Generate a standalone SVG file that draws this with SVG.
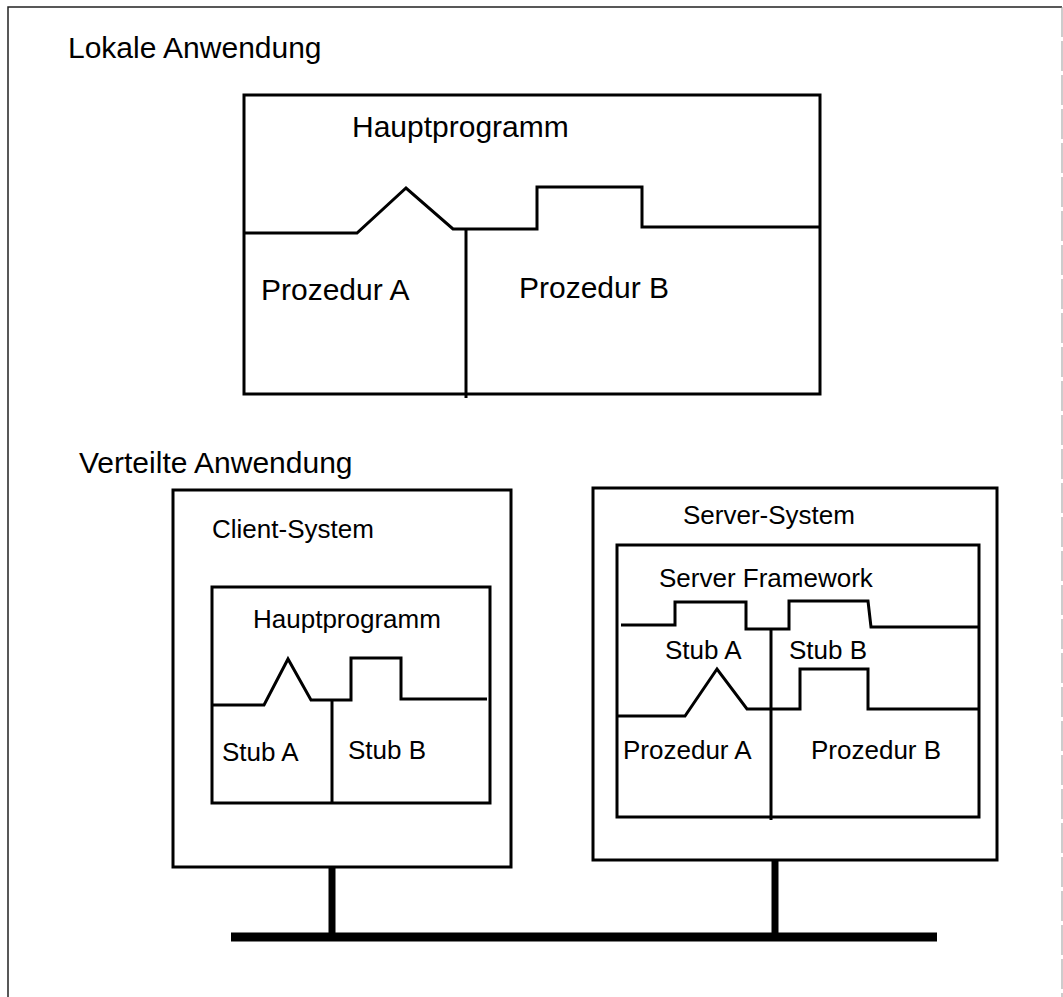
<svg xmlns="http://www.w3.org/2000/svg" width="1063" height="997" viewBox="0 0 1063 997">
<style>
.box{fill:none;stroke:#000;stroke-width:3}
.ln{fill:none;stroke:#000;stroke-width:3;stroke-linejoin:miter}
.t{font-family:"Liberation Sans",Arial,sans-serif;fill:#000}
.big{font-size:30px}
.sm{font-size:26px}
</style>
<rect width="1063" height="997" fill="#fff"/>
<path d="M8,997 V7 H1062" fill="none" stroke="#222" stroke-width="1.5"/>
<path d="M1062,7 V997" fill="none" stroke="#999" stroke-width="1" stroke-dasharray="30,4"/>
<text class="t big" x="68" y="58">Lokale Anwendung</text>
<text class="t big" x="79" y="473">Verteilte Anwendung</text>
<g id="lokal">
<rect class="box" x="244" y="95" width="576" height="299"/>
<path class="ln" d="M244,233 H357 L406,188 L453,229 H537 V187 H642 V227 H820"/>
<path class="ln" d="M466,229 V398"/>
<text class="t big" x="352" y="137">Hauptprogramm</text>
<text class="t big" x="261" y="300">Prozedur A</text>
<text class="t big" x="519" y="298">Prozedur B</text>
</g>
<g id="client">
<rect class="box" x="173" y="490" width="338" height="377"/>
<rect class="box" x="212" y="587" width="278" height="216"/>
<path class="ln" d="M212,705 H264 L288,659 L311,700 H351 V658 H401 V699 H487"/>
<path class="ln" d="M332,700 V803"/>
<text class="t sm" x="212" y="538">Client-System</text>
<text class="t sm" x="253" y="628">Hauptprogramm</text>
<text class="t sm" x="222" y="761">Stub A</text>
<text class="t sm" x="348" y="759">Stub B</text>
</g>
<g id="server">
<rect class="box" x="593" y="488" width="404" height="372"/>
<rect class="box" x="617" y="545" width="362" height="272"/>
<path class="ln" d="M621,625 H675 V602 H746 V629 H789 V601 H868 L871,627 H979"/>
<path class="ln" d="M771,629 V820"/>
<path class="ln" d="M617,716 H685 L717,669 L747,709 H800 V669 H868 V709 H979"/>
<text class="t sm" x="683" y="524">Server-System</text>
<text class="t sm" x="659" y="587">Server Framework</text>
<text class="t sm" x="665" y="659">Stub A</text>
<text class="t sm" x="789" y="659">Stub B</text>
<text class="t sm" x="623" y="759">Prozedur A</text>
<text class="t sm" x="811" y="759">Prozedur B</text>
</g>
<g id="connectors">
<path d="M332,867 V937" stroke="#000" stroke-width="7" fill="none"/>
<path d="M775,860 V937" stroke="#000" stroke-width="7" fill="none"/>
<path d="M231,937 H937" stroke="#000" stroke-width="9" fill="none"/>
</g>
</svg>
